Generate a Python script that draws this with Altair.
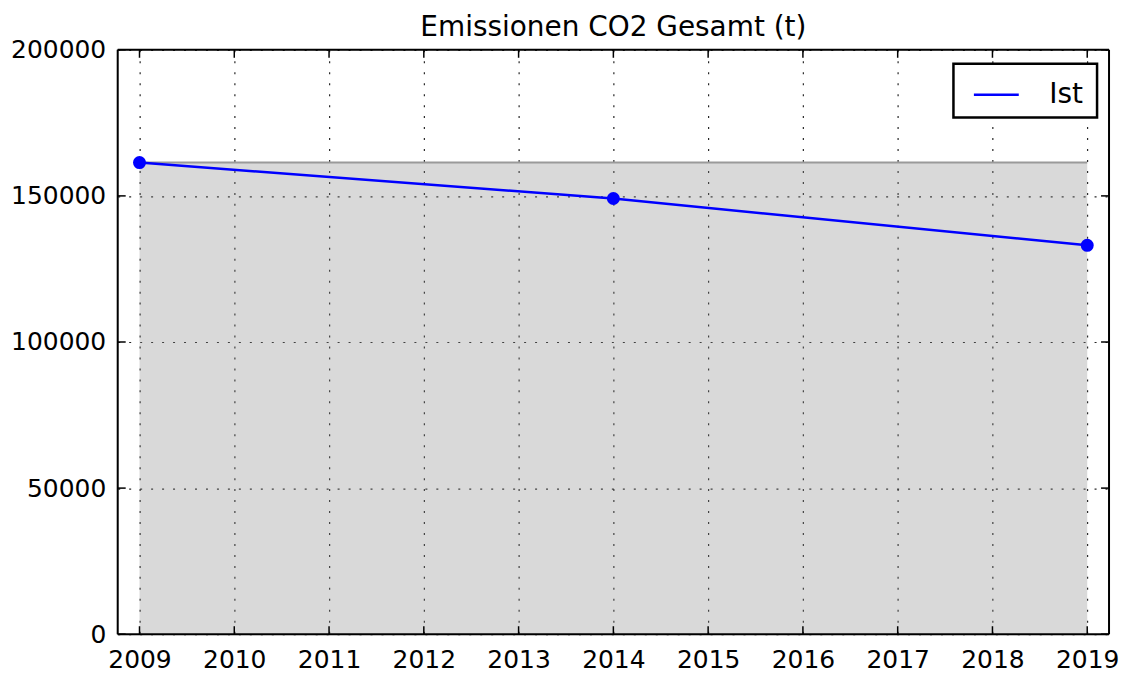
import altair as alt
import pandas as pd

# data
years = [2009, 2014, 2019]
ist_values = [161400, 149100, 133100]
band_years = [2009, 2019]
band_values = [161400, 161400]
x_ticks = list(range(2009, 2020))
y_ticks = [0, 50000, 100000, 150000, 200000]
series_name = "Ist"

W, H = 994, 586
FONT = "DejaVu Sans"

df_line = pd.DataFrame({"year": years, "value": ist_values, "series": [series_name] * len(years)})
df_band = pd.DataFrame({"year": band_years, "value": band_values})
df_xt = pd.DataFrame({"year": x_ticks})
df_yt = pd.DataFrame({"value": y_ticks})

xscale = alt.Scale(domain=[2008.77, 2019.23], nice=False, zero=False)
yscale = alt.Scale(domain=[0, 200000], nice=False)

xaxis = alt.Axis(values=x_ticks, format="d", title=None, grid=True, tickSize=0, domain=False,
                 labelFontSize=25, labelPadding=13, labelColor="#000", labelFont=FONT,
                 gridColor="#000", gridDash=[2, 9], gridWidth=1.2, gridOpacity=0.85)
yaxis = alt.Axis(values=y_ticks, format="d", title=None, grid=True, tickSize=0, domain=False,
                 labelFontSize=25, labelPadding=12, labelColor="#000", labelFont=FONT,
                 gridColor="#000", gridDash=[2, 9], gridWidth=1.2, gridOpacity=0.85)

band = alt.Chart(df_band).mark_area(color="#808080", opacity=0.3,
                                    line={"color": "#9a9a9a", "strokeWidth": 2, "opacity": 1}).encode(
    x=alt.X("year:Q", scale=xscale, axis=xaxis),
    y=alt.Y("value:Q", scale=yscale, axis=yaxis),
)

line = alt.Chart(df_line).mark_line(strokeWidth=2.5).encode(
    x=alt.X("year:Q", scale=xscale),
    y=alt.Y("value:Q", scale=yscale),
    color=alt.Color("series:N", scale=alt.Scale(domain=[series_name], range=["#0000ff"]),
                    legend=alt.Legend(title=None, orient="none", legendX=838, legendY=14,
                                      strokeColor="transparent", fillColor="transparent", padding=7,
                                      symbolType="stroke", symbolSize=2025, symbolStrokeWidth=2.5,
                                      symbolOffset=12, labelFontSize=28, labelFont=FONT,
                                      labelColor="#000", labelOffset=29)),
)

points = alt.Chart(df_line).mark_circle(size=170, color="#0000ff", opacity=1).encode(
    x=alt.X("year:Q", scale=xscale),
    y=alt.Y("value:Q", scale=yscale),
)

tick_len = 8
xt_bottom = alt.Chart(df_xt).mark_rule(color="#000", strokeWidth=1.5).encode(
    x=alt.X("year:Q", scale=xscale), y=alt.value(H), y2=alt.value(H - tick_len))
xt_top = alt.Chart(df_xt).mark_rule(color="#000", strokeWidth=1.5).encode(
    x=alt.X("year:Q", scale=xscale), y=alt.value(0), y2=alt.value(tick_len))
yt_left = alt.Chart(df_yt).mark_rule(color="#000", strokeWidth=1.5).encode(
    y=alt.Y("value:Q", scale=yscale), x=alt.value(0), x2=alt.value(tick_len))
yt_right = alt.Chart(df_yt).mark_rule(color="#000", strokeWidth=1.5).encode(
    y=alt.Y("value:Q", scale=yscale), x=alt.value(W), x2=alt.value(W - tick_len))

# plot frame and legend frame
frame_df = pd.DataFrame({"k": [0]})
frame = [
    alt.Chart(frame_df).mark_rule(color="#000", strokeWidth=2).encode(
        x=alt.value(0), x2=alt.value(W), y=alt.value(0)),
    alt.Chart(frame_df).mark_rule(color="#000", strokeWidth=2).encode(
        x=alt.value(0), x2=alt.value(W), y=alt.value(H)),
    alt.Chart(frame_df).mark_rule(color="#000", strokeWidth=2).encode(
        y=alt.value(0), y2=alt.value(H), x=alt.value(0)),
    alt.Chart(frame_df).mark_rule(color="#000", strokeWidth=2).encode(
        y=alt.value(0), y2=alt.value(H), x=alt.value(W)),
]
legend_box = alt.Chart(frame_df).mark_rect(fill="#fff", stroke="#000", strokeWidth=2.5).encode(
    x=alt.value(838), x2=alt.value(982), y=alt.value(14), y2=alt.value(68))

chart = alt.layer(band, line, points, xt_bottom, xt_top, yt_left, yt_right, *frame, legend_box).properties(
    width=W, height=H,
    title=alt.TitleParams("Emissionen CO2 Gesamt (t)", fontSize=28, font=FONT, fontWeight="normal",
                          color="#000", anchor="middle", offset=10, dy=14),
    autosize=alt.AutoSizeParams(type="none"),
    padding={"left": 110, "top": 41, "right": 10, "bottom": 40},
).configure_view(
    stroke=None
).configure(background="white")

chart.save("out.html", embed_options={"renderer": "svg", "actions": False})
